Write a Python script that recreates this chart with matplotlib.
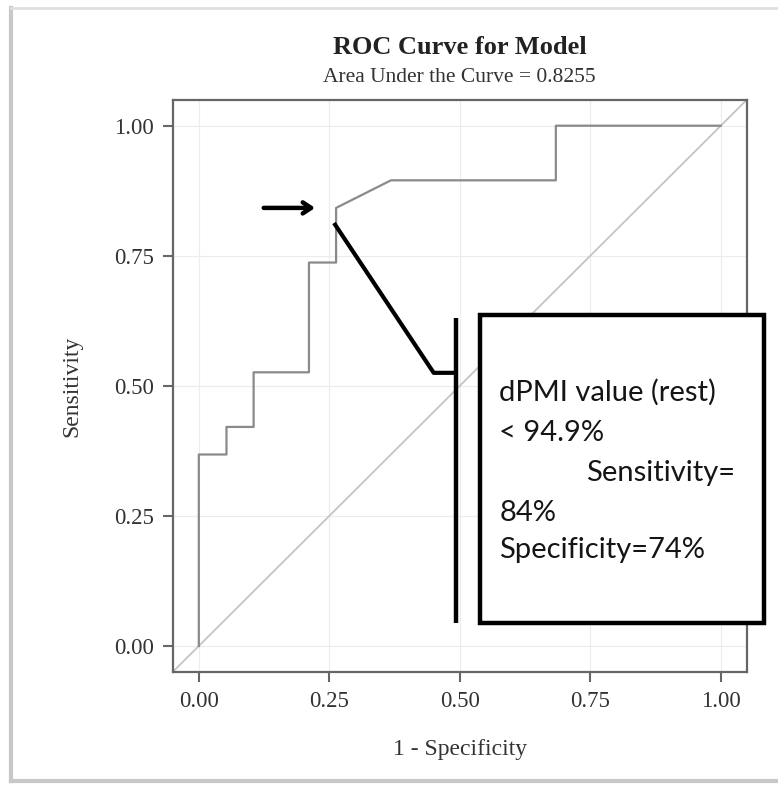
import matplotlib
matplotlib.use('Agg')
import matplotlib.pyplot as plt
from matplotlib.patches import Rectangle
from matplotlib.lines import Line2D

# ROC curve (19 positives / 19 negatives)
fpr = [0.0, 0.0, 0.053, 0.053, 0.105, 0.105, 0.211, 0.211, 0.263, 0.263, 0.368, 0.684, 0.684, 1.0]
tpr = [0.0, 0.368, 0.368, 0.421, 0.421, 0.526, 0.526, 0.737, 0.737, 0.842, 0.895, 0.895, 1.0, 1.0]

ticks = [0.0, 0.25, 0.5, 0.75, 1.0]
tick_labels = ['0.00', '0.25', '0.50', '0.75', '1.00']

titel = 'ROC Curve for Model'
podtitel = 'Area Under the Curve = 0.8255'
box_lines = ['dPMI value (rest)', '< 94.9%', 'Sensitivity=', '84%', 'Specificity=74%']

serif = ['Liberation Serif', 'DejaVu Serif']

fig = plt.figure(figsize=(7.78, 7.85), dpi=100)
ax = fig.add_axes([0.222, 0.144, 0.738, 0.729])

# tlo
ax.set_xlim(-0.05, 1.05)
ax.set_ylim(-0.05, 1.05)
ax.set_xticks(ticks)
ax.set_yticks(ticks)
ax.set_xticklabels(tick_labels, family=serif, fontsize=16.5, color='#333333')
ax.set_yticklabels(tick_labels, family=serif, fontsize=16.5, color='#333333')
ax.tick_params(length=7.5, width=1.5, color='#666666', pad=6)
ax.grid(True, color='#ececec', linewidth=0.8)
ax.set_axisbelow(True)
for s in ax.spines.values():
    s.set_color('#666666')
    s.set_linewidth(1.6)

# przekatna i krzywa
ax.plot([-0.05, 1.05], [-0.05, 1.05], color='#c4c4c4', linewidth=1.3, zorder=2)
ax.plot(fpr, tpr, color='#8a8a8a', linewidth=1.6, zorder=3)

ax.set_xlabel('1 - Specificity', family=serif, fontsize=17, color='#333333', va='center')
ax.xaxis.set_label_coords(0.5, -0.136)
ax.set_ylabel('Sensitivity', family=serif, fontsize=17, color='#333333', va='center')
ax.yaxis.set_label_coords(-0.175, 0.5)

fig.text(0.591, 1 - 48 / 785, titel, family=serif, fontsize=19, fontweight='bold',
         ha='center', va='center', color='#222222')
fig.text(0.591, 1 - 77 / 785, podtitel, family=serif, fontsize=15.5,
         ha='center', va='center', color='#333333')

# adnotacje
ax.annotate('', xy=(0.228, 0.842), xytext=(0.119, 0.842),
            arrowprops=dict(arrowstyle='->,head_length=0.6,head_width=0.4', lw=3.2, color='black'),
            zorder=5)
ax.plot([0.259, 0.450, 0.493], [0.813, 0.525, 0.525], color='black', linewidth=3,
        solid_capstyle='butt', zorder=5, clip_on=False)
ax.plot([0.493, 0.493], [0.044, 0.631], color='black', linewidth=3.2,
        solid_capstyle='butt', zorder=5, clip_on=False)
ax.add_patch(Rectangle((0.539, 0.044), 0.544, 0.593, facecolor='white', edgecolor='black',
                       linewidth=3.2, zorder=6, clip_on=False))

box_x = [0.576, 0.576, 0.742, 0.576, 0.576]
box_y = [0.488, 0.410, 0.333, 0.256, 0.185]
for tx, ty, t in zip(box_x, box_y, box_lines):
    ax.text(tx, ty, t, family=['Lato', 'DejaVu Sans'], fontsize=21, color='#151515',
            ha='left', va='center', zorder=7, clip_on=False)

# ramka
kol = '#c8c8c8'
fig.add_artist(Line2D([11 / 778, 11 / 778], [1 - 8 / 785, 1 - 781 / 785], color=kol, lw=3,
                      transform=fig.transFigure))
fig.add_artist(Line2D([11 / 778, 1.0], [1 - 8 / 785, 1 - 8 / 785], color='#e0e0e0', lw=2,
                      transform=fig.transFigure))
fig.add_artist(Line2D([11 / 778, 1.0], [1 - 781 / 785, 1 - 781 / 785], color=kol, lw=3,
                      transform=fig.transFigure))

fig.savefig('out.png', dpi=100)
